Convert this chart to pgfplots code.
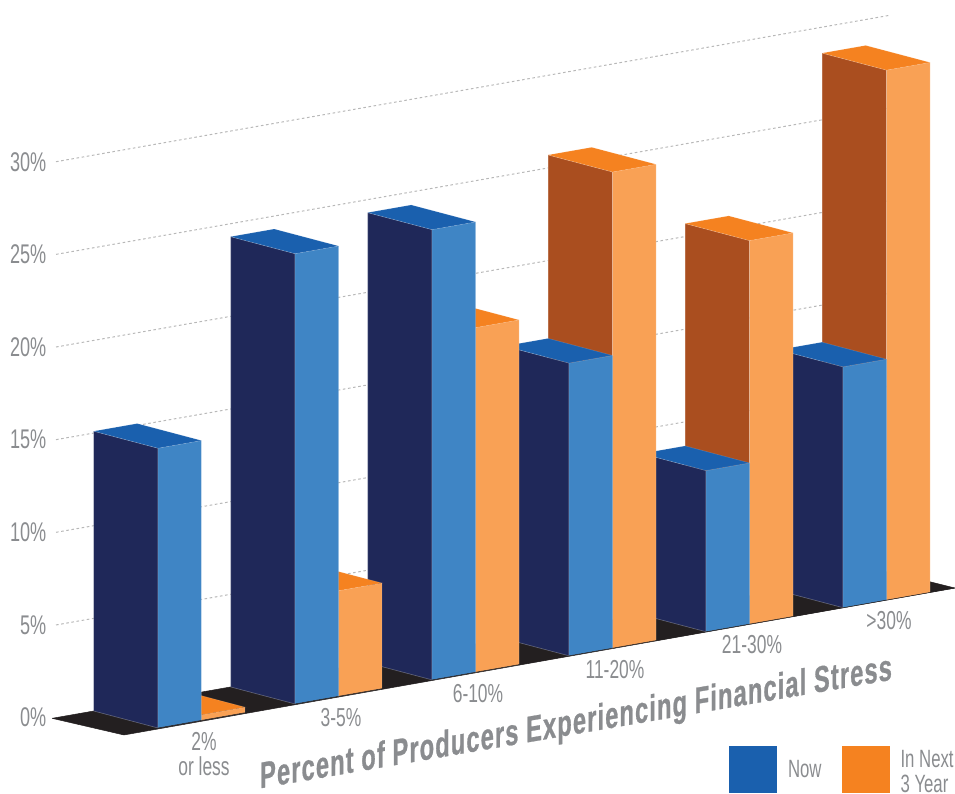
\documentclass[border=0pt]{standalone}
\usepackage{fontspec}
\usepackage{pgfplots}
\pgfplotsset{compat=1.18}
\newfontfamily\lblfont[FakeStretch=0.67]{Liberation Sans}
\newfontfamily\ttlfont[FakeStretch=0.64,LetterSpace=3,FakeBold=0.7]{Liberation Sans Bold}
\definecolor{txt}{HTML}{8A8C8F}
\definecolor{navy}{HTML}{1F2859}
\definecolor{bluefront}{HTML}{3F85C5}
\definecolor{bluetop}{HTML}{1A60AE}
\definecolor{brown}{HTML}{AA4E1F}
\definecolor{orangefront}{HTML}{F9A155}
\definecolor{orangetop}{HTML}{F58220}
\definecolor{floorblack}{HTML}{231F20}
% one box: left edge, right edge, height, then side, front and top colours
\newcommand{\BarBox}[6]{%
  \addplot3[fill=#4,draw=white,draw opacity=0.3,line width=0.6pt]
    coordinates {(#1,0,0)(#1,1,0)(#1,1,#3)(#1,0,#3)(#1,0,0)};
  \addplot3[fill=#5,draw=white,draw opacity=0.15,line width=0.6pt]
    coordinates {(#1,0,0)(#2,0,0)(#2,0,#3)(#1,0,#3)(#1,0,0)};
  \addplot3[fill=#6,draw=white,draw opacity=0.15,line width=0.6pt]
    coordinates {(#1,0,#3)(#2,0,#3)(#2,1,#3)(#1,1,#3)(#1,0,#3)};
}
\newcommand{\GridLine}[1]{%
  \addplot3[draw=black!28,line width=1pt,dash pattern=on 2.6pt off 2.6pt]
    coordinates {(-0.275,1,#1)(5.81,1,#1)};
  \node[anchor=east,inner sep=0pt,text=txt,font=\lblfont\fontsize{27}{27}\selectfont]
    at (axis cs:-0.275,1,#1) [xshift=-9.5pt] {#1\%};
}
\newcommand{\CatLabel}[2]{%
  \node[anchor=north,inner sep=0pt,align=center,text=txt,
        font=\lblfont\fontsize{26}{25}\selectfont]
    at (axis cs:#1,0,0) [xshift=2.5pt,yshift=-11.5pt] {#2};
}
\begin{document}
\begin{tikzpicture}
\useasboundingbox (0pt,0pt) rectangle (955pt,793pt);
% page-sized frame holding the title and the legend
\begin{axis}[name=canvas,at={(0pt,0pt)},anchor=south west,
    width=955pt,height=793pt,scale only axis,hide axis,clip=false,
    xmin=0,xmax=955,ymin=0,ymax=793,
    legend columns=2,
    legend image code/.code={\fill[#1] (0pt,-21pt) rectangle (48pt,26pt);},
    legend style={draw=none,fill=none,inner sep=0pt,outer sep=0pt,
      at={(0.7634,-0.0038)},anchor=south west,text=txt,
      font=\lblfont\fontsize{25}{25}\selectfont,
      cells={align=left,anchor=west},
      /tikz/every even column/.append style={column sep=18pt},
      /tikz/every odd column/.append style={column sep=9pt}},
    ]
  \addlegendimage{fill=bluetop,draw=none}
  \addlegendentry{\raisebox{6pt}{Now}}
  \addlegendimage{fill=orangetop,draw=none}
  \addlegendentry{In Next\\3 Year}
  \node[anchor=base,inner sep=0pt,text=txt,transform shape,yslant=0.172,
        font=\ttlfont\fontsize{37}{37}\selectfont]
    at (axis cs:576,59) {Percent of Producers Experiencing Financial Stress};
\end{axis}
% oblique view: x runs along the categories, y is the bar depth, z the percentage
\begin{axis}[at={(158pt,65pt)},anchor=origin,
    x={(137pt,24.06pt)},y={(-64.3pt,17pt)},z={(0pt,18.53pt)},
    hide axis,clip=false,
    xmin=-0.31,xmax=5.82,ymin=-0.04,ymax=1,zmin=0,zmax=30]
  \GridLine{30}\GridLine{25}\GridLine{20}\GridLine{15}\GridLine{10}\GridLine{5}
  \node[anchor=east,inner sep=0pt,text=txt,font=\lblfont\fontsize{27}{27}\selectfont]
    at (axis cs:-0.275,1,0) [xshift=-9.5pt] {0\%};
  \addplot3[fill=floorblack,draw=floorblack,line width=0.5pt]
    coordinates {(-0.304,1,0)(-0.265,-0.036,0)(5.818,0,0)(5.8,1,0)(-0.304,1,0)};
  % back to front: the last category first, orange behind blue
  \BarBox{5.3175}{5.635}{28.6}{brown}{orangefront}{orangetop}
  \BarBox{5}{5.3175}{13.0}{navy}{bluefront}{bluetop}
  \BarBox{4.3175}{4.635}{20.7}{brown}{orangefront}{orangetop}
  \BarBox{4}{4.3175}{8.7}{navy}{bluefront}{bluetop}
  \BarBox{3.3175}{3.635}{25.7}{brown}{orangefront}{orangetop}
  \BarBox{3}{3.3175}{15.8}{navy}{bluefront}{bluetop}
  \BarBox{2.3175}{2.635}{18.6}{brown}{orangefront}{orangetop}
  \BarBox{2}{2.3175}{24.3}{navy}{bluefront}{bluetop}
  \BarBox{1.3175}{1.635}{5.7}{brown}{orangefront}{orangetop}
  \BarBox{1}{1.3175}{24.3}{navy}{bluefront}{bluetop}
  \BarBox{0.3175}{0.635}{0.3}{brown}{orangefront}{orangetop}
  \BarBox{0}{0.3175}{15.1}{navy}{bluefront}{bluetop}
  \addplot3[draw=floorblack,line width=0.5pt] coordinates {(-0.265,0,0)(5.818,0,0)};
  \CatLabel{0.3175}{2\%\\or less}
  \CatLabel{1.3175}{3-5\%}
  \CatLabel{2.3175}{6-10\%}
  \CatLabel{3.3175}{11-20\%}
  \CatLabel{4.3175}{21-30\%}
  \CatLabel{5.3175}{>30\%}
\end{axis}
\end{tikzpicture}
\end{document}
